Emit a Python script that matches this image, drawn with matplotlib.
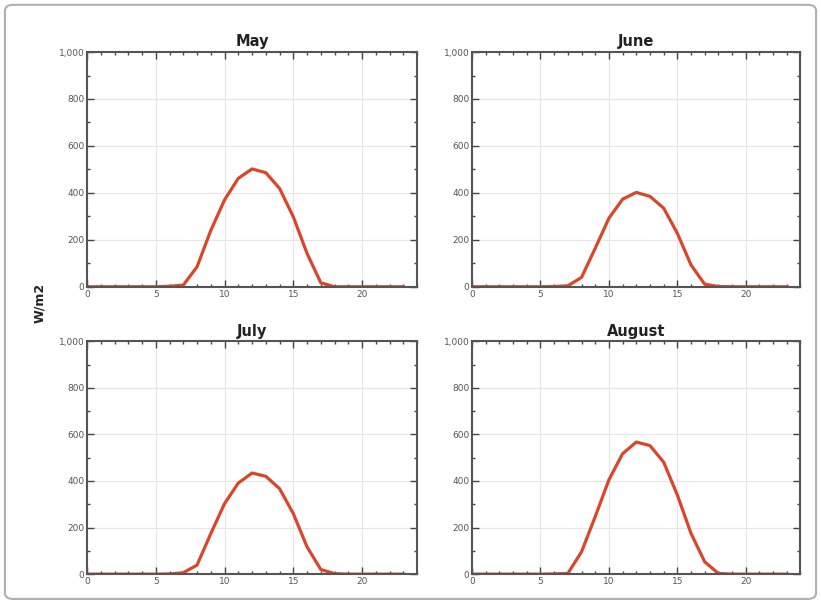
import matplotlib
matplotlib.use("Agg")
import matplotlib.pyplot as plt
from matplotlib.ticker import MultipleLocator, FuncFormatter
from matplotlib.patches import FancyBboxPatch

hours = list(range(24))

may = [0, 0, 0, 0, 0, 0, 2, 7, 85, 240, 370, 462, 502, 486, 419, 298, 142, 17, 0, 0, 0, 0, 0, 0]
june = [0, 0, 0, 0, 0, 0, 1, 4, 40, 164, 292, 373, 402, 385, 335, 228, 93, 11, 1, 0, 0, 0, 0, 0]
july = [0, 0, 0, 0, 0, 0, 1, 6, 39, 174, 303, 391, 434, 420, 367, 260, 117, 20, 2, 0, 0, 0, 0, 0]
august = [0, 0, 0, 0, 0, 0, 1, 3, 96, 247, 405, 517, 567, 552, 481, 340, 175, 53, 3, 0, 0, 0, 0, 0]

months = ["May", "June", "July", "August"]
series = [may, june, july, august]

fig = plt.figure(figsize=(8.21, 6.05), dpi=100)

# frame around the whole picture
frame = FancyBboxPatch((0.006, 0.01), 0.988, 0.982, boxstyle="round,pad=0,rounding_size=0.01",
                       transform=fig.transFigure, facecolor="none", edgecolor="#b0b0b0", lw=1.5)
fig.patches.append(frame)

positions = [
    [0.106, 0.526, 0.402, 0.388],
    [0.575, 0.526, 0.400, 0.388],
    [0.106, 0.051, 0.402, 0.385],
    [0.575, 0.051, 0.400, 0.385],
]

for pos, name, vals in zip(positions, months, series):
    ax = fig.add_axes(pos)
    ax.plot(hours, vals, color="#d9472b", lw=2.3)
    ax.set_xlim(0, 24)
    ax.set_ylim(0, 1000)
    ax.set_title(name, fontsize=10.5, fontweight="bold", color="#222222", pad=4)
    ax.xaxis.set_major_locator(MultipleLocator(5))
    ax.xaxis.set_minor_locator(MultipleLocator(1))
    ax.yaxis.set_major_locator(MultipleLocator(200))
    ax.yaxis.set_minor_locator(MultipleLocator(100))
    ax.yaxis.set_major_formatter(FuncFormatter(lambda v, p: f"{int(v):,}"))
    ax.tick_params(which="both", direction="in", top=True, right=True, color="#444444")
    ax.tick_params(which="major", length=5, width=1, labelsize=6.5, labelcolor="#555555", pad=2)
    ax.tick_params(which="minor", length=2.5, width=1)
    ax.grid(True, which="major", color="#e6e6e6", lw=0.8)
    ax.set_axisbelow(True)
    for sp in ax.spines.values():
        sp.set_color("#555555")
        sp.set_linewidth(1.5)

fig.text(0.048, 0.5, "W/m2", rotation=90, fontsize=9, fontweight="bold",
         color="#222222", ha="center", va="center")

plt.savefig("out.png", dpi=100)
